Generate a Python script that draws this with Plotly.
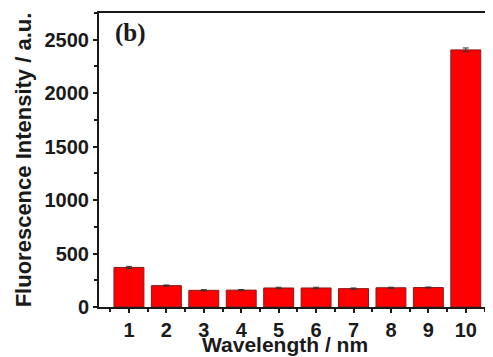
import plotly.graph_objects as go

categories = [1, 2, 3, 4, 5, 6, 7, 8, 9, 10]
intensity = [370, 200, 156, 158, 178, 178, 172, 180, 182, 2405]
errors = [10, 6, 6, 5, 7, 7, 6, 5, 5, 18]
x_ticks = [1, 2, 3, 4, 5, 6, 7, 8, 9, 10]
y_ticks = [0, 500, 1000, 1500, 2000, 2500]

fig = go.Figure()
fig.add_trace(go.Bar(
    x=categories, y=intensity, width=0.8,
    marker=dict(color="#ff0000", line=dict(color="#8a1a1a", width=1)),
    error_y=dict(type="data", array=errors, color="#333333", thickness=1, width=3),
))

tickfont = dict(family="Liberation Sans, Arial", size=20, color="#1a1a1a")
fig.update_layout(
    width=485, height=349,
    margin=dict(l=91, r=1, t=5, b=50),
    paper_bgcolor="white", plot_bgcolor="white",
    showlegend=False,
    font=dict(family="Liberation Sans, Arial", color="#1a1a1a"),
    xaxis=dict(
        range=[0.2, 10.7], tickvals=x_ticks, ticktext=["<b>%d</b>" % t for t in x_ticks],
        showgrid=False, zeroline=False, automargin=False,
        showline=True, linecolor="#1a1a1a", linewidth=2, mirror=True,
        ticks="outside", ticklen=4, tickwidth=2, tickcolor="#1a1a1a",
        tickfont=tickfont,
        minor=dict(dtick=0.5, tick0=0.5, ticks="outside", ticklen=3, tickwidth=1.5, tickcolor="#1a1a1a"),
    ),
    yaxis=dict(
        range=[0, 2750], tickvals=y_ticks, ticktext=["<b>%d</b>" % t for t in y_ticks],
        showgrid=False, zeroline=False, automargin=False,
        showline=True, linecolor="#1a1a1a", linewidth=2,
        ticks="outside", ticklen=4, tickwidth=2, tickcolor="#1a1a1a",
        tickfont=tickfont,
        minor=dict(dtick=250, ticks="outside", ticklen=3, tickwidth=1.5, tickcolor="#1a1a1a"),
        title=dict(text="<b>Fluorescence Intensity / a.u.</b>", font=dict(size=22), standoff=7),
    ),
)
fig.add_annotation(
    x=0.4745, y=-0.170, xref="paper", yref="paper", xanchor="center", yanchor="bottom",
    text="<b>Wavelength / nm</b>", showarrow=False, borderpad=0,
    font=dict(family="Liberation Sans, Arial", size=21, color="#1a1a1a"),
)
fig.add_annotation(
    x=0.035, y=0.985, xref="paper", yref="paper", xanchor="left", yanchor="top",
    text="<b>(b)</b>", showarrow=False,
    font=dict(family="Liberation Serif, Times New Roman", size=25, color="#1a1a1a"),
)
fig.write_html("out.html")
